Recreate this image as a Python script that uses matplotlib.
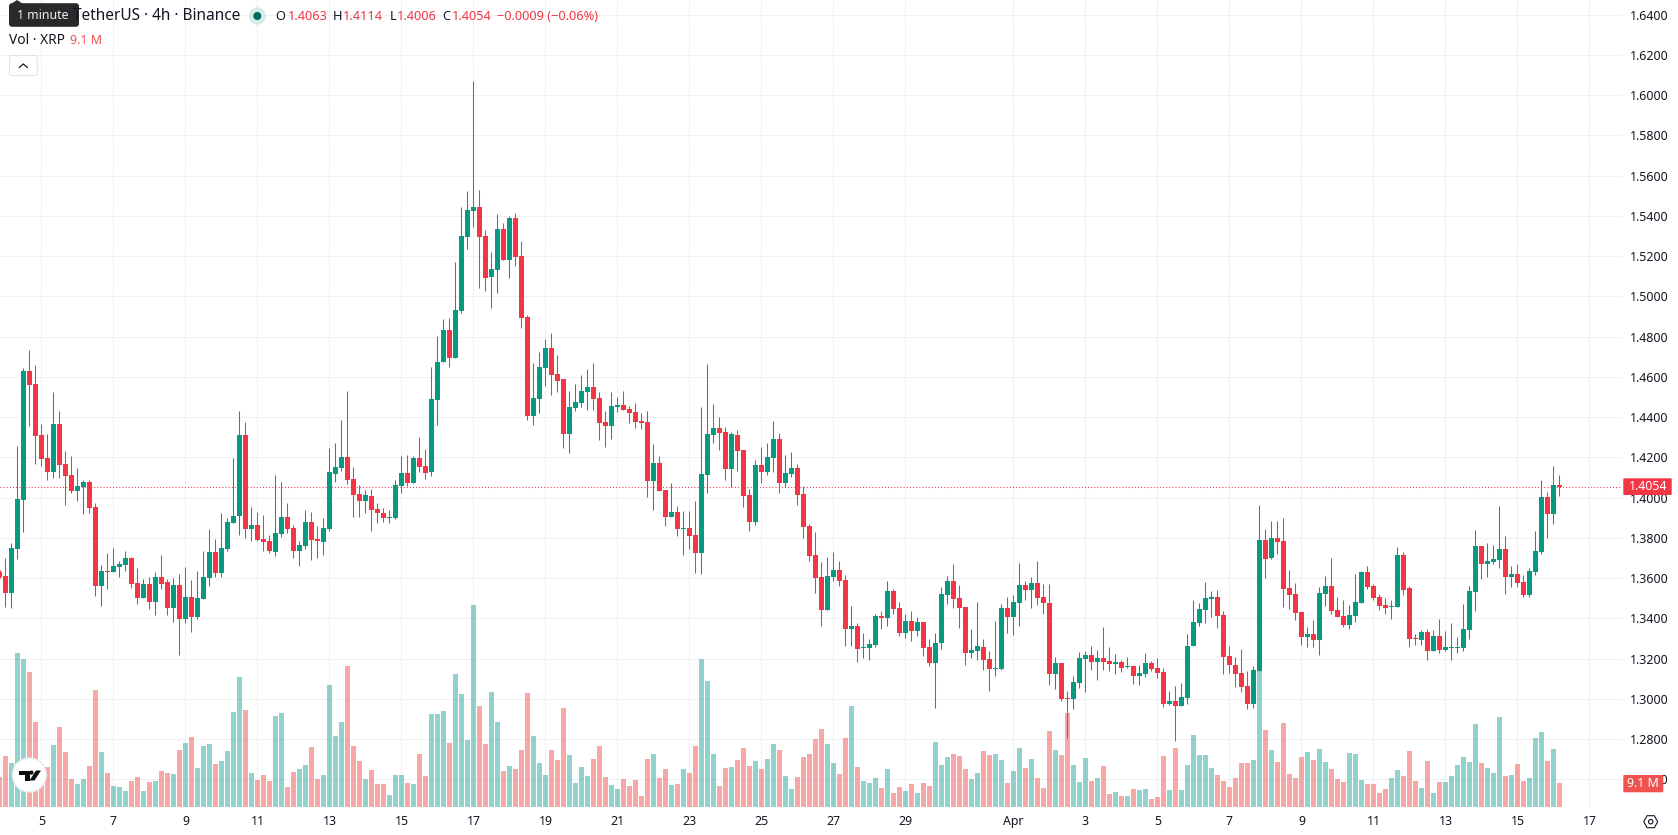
import numpy as np
import matplotlib
matplotlib.use('Agg')
import matplotlib.pyplot as plt
from matplotlib.patches import Circle, FancyBboxPatch, Polygon

plt.rcParams['font.family'] = ['Noto Sans', 'DejaVu Sans']

# ── XRP/USDT 4h candles, oldest first ──────────────────────
opens = [
    1.3629, 1.3609, 1.3525, 1.3743, 1.3987, 1.4628, 1.4564, 1.4310, 1.4196, 1.4126,
    1.4365, 1.4166, 1.4111, 1.4032, 1.4052, 1.4076, 1.3952, 1.3559, 1.3634, 1.3629,
    1.3654, 1.3664, 1.3699, 1.3574, 1.3500, 1.3569, 1.3480, 1.3604, 1.3579, 1.3450,
    1.3564, 1.3395, 1.3505, 1.3405, 1.3495, 1.3599, 1.3728, 1.3624, 1.3743, 1.3873,
    1.3907, 1.4310, 1.3843, 1.3863, 1.3793, 1.3783, 1.3728, 1.3818, 1.3902, 1.3848,
    1.3733, 1.3760, 1.3879, 1.3795, 1.3780, 1.3845, 1.4118, 1.4148, 1.4203, 1.4093,
    1.4019, 1.3984, 1.4009, 1.3944, 1.3924, 1.3899, 1.3899, 1.4058, 1.4123, 1.4073,
    1.4198, 1.4158, 1.4128, 1.4486, 1.4675, 1.4834, 1.4695, 1.4928, 1.5296, 1.5425,
    1.5445, 1.5301, 1.5097, 1.5132, 1.5336, 1.5182, 1.5391, 1.5202, 1.4898, 1.4405,
    1.4490, 1.4644, 1.4743, 1.4614, 1.4589, 1.4316, 1.4445, 1.4470, 1.4525, 1.4550,
    1.4495, 1.4376, 1.4356, 1.4450, 1.4460, 1.4440, 1.4425, 1.4381, 1.4376, 1.4082,
    1.4172, 1.4038, 1.3903, 1.3928, 1.3844, 1.3849, 1.3814, 1.3724, 1.4112, 1.4311,
    1.4346, 1.4326, 1.4142, 1.4311, 1.4236, 1.4013, 1.3878, 1.4162, 1.4127, 1.4197,
    1.4291, 1.4072, 1.4117, 1.4147, 1.4018, 1.3859, 1.3714, 1.3605, 1.3441, 1.3605,
    1.3640, 1.3590, 1.3347, 1.3362, 1.3252, 1.3252, 1.3267, 1.3412, 1.3402, 1.3536,
    1.3451, 1.3327, 1.3387, 1.3337, 1.3382, 1.3257, 1.3178, 1.3277, 1.3516, 1.3586,
    1.3501, 1.3456, 1.3228, 1.3238, 1.3257, 1.3198, 1.3148, 1.3148, 1.3451, 1.3407,
    1.3476, 1.3566, 1.3541, 1.3576, 1.3506, 1.3476, 1.3123, 1.3178, 1.3004, 1.2999,
    1.3078, 1.3198, 1.3218, 1.3183, 1.3203, 1.3188, 1.3173, 1.3183, 1.3158, 1.3163,
    1.3113, 1.3123, 1.3178, 1.3153, 1.3133, 1.2974, 1.2989, 1.2964, 1.3004, 1.3262,
    1.3377, 1.3441, 1.3496, 1.3506, 1.3416, 1.3213, 1.3168, 1.3128, 1.3063, 1.2974,
    1.3138, 1.3789, 1.3700, 1.3799, 1.3784, 1.3551, 1.3521, 1.3431, 1.3307, 1.3322,
    1.3292, 1.3521, 1.3561, 1.3441, 1.3411, 1.3367, 1.3411, 1.3476, 1.3630, 1.3561,
    1.3506, 1.3466, 1.3456, 1.3456, 1.3715, 1.3551, 1.3302, 1.3292, 1.3332, 1.3237,
    1.3312, 1.3242, 1.3252, 1.3252, 1.3252, 1.3342, 1.3531, 1.3759, 1.3670, 1.3680,
    1.3690, 1.3744, 1.3605, 1.3620, 1.3580, 1.3516, 1.3630, 1.3730, 1.4003, 1.3918,
    1.4063,
]
highs = [
    1.3639, 1.3699, 1.3772, 1.4255, 1.4643, 1.4733, 1.4658, 1.4365, 1.4315, 1.4524,
    1.4429, 1.4231, 1.4206, 1.4146, 1.4086, 1.4086, 1.3972, 1.3664, 1.3723, 1.3748,
    1.3684, 1.3733, 1.3704, 1.3649, 1.3594, 1.3604, 1.3629, 1.3714, 1.3594, 1.3599,
    1.3619, 1.3654, 1.3589, 1.3634, 1.3733, 1.3843, 1.3793, 1.3922, 1.3897, 1.4196,
    1.4429, 1.4375, 1.3952, 1.3927, 1.3912, 1.3813, 1.4111, 1.4076, 1.3972, 1.3863,
    1.3783, 1.3939, 1.3929, 1.3860, 1.3899, 1.4247, 1.4272, 1.4386, 1.4531, 1.4153,
    1.4063, 1.4038, 1.4043, 1.3974, 1.3949, 1.3939, 1.4088, 1.4207, 1.4212, 1.4207,
    1.4302, 1.4242, 1.4650, 1.4804, 1.4889, 1.4893, 1.5172, 1.5445, 1.5525, 1.6072,
    1.5530, 1.5331, 1.5222, 1.5410, 1.5366, 1.5401, 1.5415, 1.5276, 1.4908, 1.4669,
    1.4724, 1.4788, 1.4818, 1.4709, 1.4589, 1.4530, 1.4564, 1.4609, 1.4639, 1.4669,
    1.4525, 1.4430, 1.4525, 1.4500, 1.4530, 1.4455, 1.4470, 1.4420, 1.4430, 1.4266,
    1.4207, 1.4038, 1.4072, 1.3958, 1.3933, 1.3933, 1.3983, 1.4450, 1.4664, 1.4465,
    1.4400, 1.4351, 1.4326, 1.4336, 1.4236, 1.4042, 1.4187, 1.4251, 1.4271, 1.4381,
    1.4321, 1.4211, 1.4226, 1.4167, 1.4057, 1.3868, 1.3829, 1.3680, 1.3705, 1.3730,
    1.3685, 1.3615, 1.3461, 1.3377, 1.3327, 1.3297, 1.3421, 1.3436, 1.3586, 1.3546,
    1.3481, 1.3421, 1.3436, 1.3407, 1.3382, 1.3297, 1.3327, 1.3556, 1.3610, 1.3670,
    1.3566, 1.3456, 1.3347, 1.3481, 1.3297, 1.3238, 1.3387, 1.3471, 1.3506, 1.3516,
    1.3675, 1.3586, 1.3605, 1.3685, 1.3571, 1.3571, 1.3208, 1.3178, 1.3039, 1.3113,
    1.3233, 1.3238, 1.3262, 1.3243, 1.3357, 1.3257, 1.3223, 1.3193, 1.3208, 1.3168,
    1.3168, 1.3227, 1.3188, 1.3203, 1.3153, 1.3039, 1.3063, 1.3078, 1.3322, 1.3491,
    1.3476, 1.3580, 1.3536, 1.3541, 1.3436, 1.3262, 1.3208, 1.3247, 1.3138, 1.3163,
    1.3963, 1.3844, 1.3884, 1.3884, 1.3899, 1.3640, 1.3575, 1.3431, 1.3357, 1.3392,
    1.3556, 1.3610, 1.3700, 1.3506, 1.3491, 1.3466, 1.3620, 1.3635, 1.3660, 1.3570,
    1.3521, 1.3501, 1.3491, 1.3754, 1.3730, 1.3561, 1.3322, 1.3342, 1.3347, 1.3342,
    1.3396, 1.3337, 1.3377, 1.3307, 1.3471, 1.3561, 1.3839, 1.3759, 1.3774, 1.3764,
    1.3958, 1.3809, 1.3660, 1.3670, 1.3615, 1.3650, 1.3834, 1.4087, 1.4028, 1.4157,
    1.4114,
]
lows = [
    1.3598, 1.3455, 1.3450, 1.3694, 1.3828, 1.4355, 1.4166, 1.4156, 1.4086, 1.4096,
    1.4096, 1.3962, 1.4022, 1.3982, 1.3917, 1.3922, 1.3510, 1.3460, 1.3545, 1.3629,
    1.3604, 1.3634, 1.3549, 1.3470, 1.3500, 1.3445, 1.3415, 1.3545, 1.3415, 1.3380,
    1.3218, 1.3375, 1.3331, 1.3395, 1.3495, 1.3559, 1.3604, 1.3604, 1.3733, 1.3873,
    1.3813, 1.3798, 1.3783, 1.3783, 1.3733, 1.3723, 1.3709, 1.3803, 1.3823, 1.3699,
    1.3659, 1.3745, 1.3690, 1.3700, 1.3715, 1.3835, 1.4078, 1.4133, 1.4068, 1.3904,
    1.3904, 1.3924, 1.3835, 1.3874, 1.3879, 1.3874, 1.3894, 1.4024, 1.4058, 1.4073,
    1.4128, 1.4093, 1.4108, 1.4362, 1.4675, 1.4650, 1.4695, 1.4918, 1.5236, 1.5346,
    1.5043, 1.5028, 1.4943, 1.5018, 1.5182, 1.5092, 1.5152, 1.4844, 1.4386, 1.4361,
    1.4420, 1.4554, 1.4510, 1.4525, 1.4246, 1.4221, 1.4430, 1.4450, 1.4435, 1.4435,
    1.4286, 1.4251, 1.4291, 1.4425, 1.4435, 1.4371, 1.4346, 1.4341, 1.4003, 1.3938,
    1.4033, 1.3859, 1.3903, 1.3809, 1.3714, 1.3744, 1.3625, 1.3620, 1.4023, 1.4271,
    1.4236, 1.4087, 1.4052, 1.4132, 1.3953, 1.3834, 1.3864, 1.4072, 1.4112, 1.4127,
    1.4023, 1.4052, 1.4102, 1.3963, 1.3799, 1.3685, 1.3525, 1.3362, 1.3441, 1.3586,
    1.3561, 1.3262, 1.3262, 1.3183, 1.3203, 1.3193, 1.3257, 1.3347, 1.3362, 1.3421,
    1.3312, 1.3302, 1.3287, 1.3312, 1.3213, 1.3163, 1.2954, 1.3247, 1.3471, 1.3451,
    1.3352, 1.3168, 1.3203, 1.3193, 1.3143, 1.3039, 1.3113, 1.3143, 1.3327, 1.3317,
    1.3362, 1.3491, 1.3451, 1.3466, 1.3421, 1.3069, 1.3049, 1.2989, 1.2805, 1.2949,
    1.3054, 1.3034, 1.3143, 1.3093, 1.3143, 1.3138, 1.3123, 1.3133, 1.3153, 1.3073,
    1.3069, 1.3108, 1.3138, 1.3103, 1.2959, 1.2969, 1.2790, 1.2964, 1.2974, 1.3262,
    1.3362, 1.3377, 1.3406, 1.3352, 1.3123, 1.3128, 1.3058, 1.3034, 1.2949, 1.2954,
    1.3138, 1.3600, 1.3695, 1.3720, 1.3456, 1.3446, 1.3392, 1.3267, 1.3257, 1.3257,
    1.3218, 1.3461, 1.3421, 1.3406, 1.3357, 1.3347, 1.3382, 1.3476, 1.3546, 1.3491,
    1.3441, 1.3421, 1.3396, 1.3456, 1.3516, 1.3257, 1.3267, 1.3267, 1.3193, 1.3237,
    1.3227, 1.3237, 1.3193, 1.3227, 1.3237, 1.3297, 1.3436, 1.3595, 1.3605, 1.3670,
    1.3648, 1.3521, 1.3556, 1.3556, 1.3506, 1.3506, 1.3615, 1.3720, 1.3799, 1.3869,
    1.4006,
]
closes = [
    1.3604, 1.3525, 1.3748, 1.3992, 1.4628, 1.4559, 1.4305, 1.4191, 1.4126, 1.4365,
    1.4161, 1.4106, 1.4032, 1.4057, 1.4076, 1.3947, 1.3559, 1.3634, 1.3629, 1.3659,
    1.3669, 1.3699, 1.3569, 1.3500, 1.3569, 1.3480, 1.3604, 1.3569, 1.3450, 1.3564,
    1.3395, 1.3505, 1.3405, 1.3500, 1.3604, 1.3728, 1.3624, 1.3748, 1.3878, 1.3907,
    1.4310, 1.3843, 1.3863, 1.3788, 1.3778, 1.3733, 1.3823, 1.3902, 1.3843, 1.3733,
    1.3763, 1.3879, 1.3790, 1.3785, 1.3850, 1.4128, 1.4153, 1.4203, 1.4088, 1.4014,
    1.3984, 1.4014, 1.3939, 1.3924, 1.3899, 1.3904, 1.4063, 1.4123, 1.4073, 1.4198,
    1.4153, 1.4123, 1.4491, 1.4675, 1.4834, 1.4695, 1.4933, 1.5301, 1.5430, 1.5445,
    1.5296, 1.5092, 1.5137, 1.5336, 1.5182, 1.5391, 1.5197, 1.4893, 1.4406, 1.4495,
    1.4649, 1.4743, 1.4609, 1.4579, 1.4316, 1.4450, 1.4475, 1.4530, 1.4550, 1.4490,
    1.4371, 1.4356, 1.4455, 1.4460, 1.4435, 1.4420, 1.4376, 1.4371, 1.4082, 1.4172,
    1.4033, 1.3903, 1.3928, 1.3844, 1.3849, 1.3809, 1.3724, 1.4117, 1.4316, 1.4346,
    1.4321, 1.4142, 1.4316, 1.4231, 1.4008, 1.3878, 1.4162, 1.4127, 1.4202, 1.4291,
    1.4072, 1.4122, 1.4147, 1.4013, 1.3854, 1.3709, 1.3600, 1.3441, 1.3610, 1.3640,
    1.3586, 1.3347, 1.3362, 1.3247, 1.3257, 1.3272, 1.3412, 1.3402, 1.3536, 1.3446,
    1.3327, 1.3387, 1.3337, 1.3382, 1.3252, 1.3178, 1.3277, 1.3521, 1.3586, 1.3496,
    1.3451, 1.3228, 1.3243, 1.3262, 1.3193, 1.3148, 1.3153, 1.3451, 1.3407, 1.3481,
    1.3566, 1.3541, 1.3576, 1.3501, 1.3476, 1.3123, 1.3178, 1.2999, 1.2999, 1.3083,
    1.3203, 1.3218, 1.3183, 1.3203, 1.3183, 1.3173, 1.3183, 1.3153, 1.3163, 1.3113,
    1.3128, 1.3178, 1.3148, 1.3128, 1.2974, 1.2989, 1.2964, 1.3009, 1.3262, 1.3382,
    1.3446, 1.3501, 1.3506, 1.3411, 1.3208, 1.3168, 1.3123, 1.3058, 1.2974, 1.3143,
    1.3789, 1.3695, 1.3799, 1.3779, 1.3546, 1.3516, 1.3426, 1.3307, 1.3322, 1.3292,
    1.3526, 1.3561, 1.3436, 1.3406, 1.3367, 1.3416, 1.3481, 1.3630, 1.3556, 1.3501,
    1.3461, 1.3451, 1.3461, 1.3715, 1.3541, 1.3297, 1.3297, 1.3332, 1.3237, 1.3312,
    1.3242, 1.3257, 1.3257, 1.3257, 1.3347, 1.3536, 1.3759, 1.3670, 1.3685, 1.3695,
    1.3744, 1.3605, 1.3620, 1.3575, 1.3516, 1.3635, 1.3735, 1.4003, 1.3918, 1.4063,
    1.4054,
]
# volume in millions of XRP
volumes = [
    11.2, 19.2, 16.6, 58.3, 56.0, 51.1, 32.1, 16.4, 15.0, 23.4,
    30.2, 20.7, 10.5, 8.6, 10.5, 15.4, 44.2, 20.7, 12.8, 7.8,
    7.5, 5.9, 9.7, 11.2, 5.9, 9.4, 9.7, 13.5, 12.8, 12.4,
    21.5, 24.1, 26.4, 14.7, 23.0, 23.8, 16.2, 17.3, 21.1, 35.9,
    49.2, 36.7, 12.8, 10.1, 12.0, 9.7, 34.4, 35.5, 7.5, 13.1,
    14.3, 15.8, 22.6, 10.5, 12.0, 46.1, 26.8, 32.1, 53.3, 23.0,
    17.3, 10.5, 13.9, 8.6, 8.6, 4.4, 12.0, 12.0, 9.0, 8.6,
    20.0, 11.8, 35.3, 35.3, 36.4, 24.3, 50.4, 42.8, 25.4, 76.6,
    38.3, 23.9, 43.6, 32.2, 13.7, 15.5, 14.4, 21.6, 43.2, 26.9,
    16.7, 12.1, 21.6, 17.8, 37.5, 19.7, 9.1, 15.2, 11.8, 18.2,
    23.1, 11.4, 8.3, 6.8, 10.6, 8.0, 10.2, 4.2, 18.2, 20.1,
    11.0, 14.4, 8.3, 8.7, 14.4, 12.9, 23.1, 56.1, 47.8, 20.1,
    8.0, 14.8, 15.2, 17.8, 22.4, 15.5, 17.4, 14.4, 18.2, 23.9,
    21.6, 11.8, 6.8, 11.4, 19.0, 20.1, 25.8, 29.6, 23.9, 16.7,
    12.5, 26.2, 38.3, 15.2, 9.9, 9.1, 11.0, 7.2, 14.4, 5.3,
    7.6, 6.1, 8.7, 5.3, 9.1, 8.0, 24.6, 15.9, 19.0, 20.1,
    19.3, 14.4, 10.6, 12.9, 21.2, 19.7, 20.1, 17.8, 9.1, 13.7,
    22.4, 14.8, 18.2, 11.0, 7.2, 28.8, 21.6, 19.7, 35.6, 15.9,
    9.5, 18.6, 9.9, 11.0, 15.5, 4.9, 5.7, 4.2, 4.2, 6.8,
    6.4, 6.8, 3.0, 3.8, 19.3, 6.4, 22.4, 6.4, 15.9, 27.3,
    19.7, 19.7, 14.8, 12.1, 9.9, 7.6, 11.0, 16.7, 16.7, 17.8,
    51.7, 29.2, 21.6, 17.1, 31.9, 12.5, 11.0, 19.0, 20.9, 17.8,
    22.0, 17.1, 14.4, 10.6, 9.5, 20.5, 20.1, 10.2, 8.7, 8.7,
    5.3, 6.8, 11.0, 14.0, 11.8, 21.2, 9.9, 7.2, 17.4, 5.3,
    9.5, 9.5, 11.8, 15.9, 19.0, 17.1, 31.5, 16.7, 14.8, 12.9,
    34.1, 11.8, 12.1, 16.3, 9.9, 11.0, 26.2, 28.4, 17.4, 22.0,
    9.1,
]

# bar numbers of the date labels (six 4h bars per day)
day_ticks = [6, 18, 30, 42, 54, 66, 78, 90, 102, 114, 126, 138, 150,
             168, 180, 192, 204, 216, 228, 240, 252, 264]
day_labels = ['5', '7', '9', '11', '13', '15', '17', '19', '21', '23', '25', '27', '29',
              'Apr', '3', '5', '7', '9', '11', '13', '15', '17']
price_ticks = [1.26, 1.28, 1.30, 1.32, 1.34, 1.36, 1.38, 1.40, 1.42, 1.44,
               1.46, 1.48, 1.50, 1.52, 1.54, 1.56, 1.58, 1.60, 1.62, 1.64]
last_price = 1.4054

UP = '#089981'
DOWN = '#F23645'
VOL_UP = '#26a69a'
VOL_DOWN = '#ef5350'
GRID = '#f0f1f4'
TEXT = '#131722'

W, H = 1678, 835
PANE_W, PANE_H = 1622, 808
PX_PER_BAR = 6.0
PX_PER_PRICE = 2012.5
PX_PER_VOL = 1 / 0.379

bars = np.arange(-1, len(opens) - 1)
o = np.array(opens)
h = np.array(highs)
l = np.array(lows)
c = np.array(closes)
is_up = c >= o
colors = np.where(is_up, UP, DOWN)
vol_colors = np.where(is_up, VOL_UP, VOL_DOWN)

fig = plt.figure(figsize=(W / 100, H / 100), dpi=100, facecolor='white')
rect = [0, 1 - PANE_H / H, PANE_W / W, PANE_H / H]
xlim = (-5.5 / PX_PER_BAR, (PANE_W - 5.5) / PX_PER_BAR)
ylim = (1.42 - (PANE_H - 457.3) / PX_PER_PRICE, 1.42 + 457.3 / PX_PER_PRICE)

# --- grid and axis labels ---
ax = fig.add_axes(rect)
ax.set_xlim(xlim)
ax.set_ylim(ylim)
for s in ax.spines.values():
    s.set_visible(False)
ax.yaxis.tick_right()
ax.set_yticks(price_ticks, [f'{p:.4f}' for p in price_ticks])
ax.set_xticks(day_ticks, day_labels)
ax.tick_params(axis='y', length=0, pad=6.0, labelsize=8.9, labelcolor=TEXT)
ax.tick_params(axis='x', length=0, pad=5.0, labelsize=8.9, labelcolor=TEXT)
for t in ax.get_xticklabels():
    if t.get_text() == 'Apr':
        t.set_fontweight('bold')
ax.grid(True, color=GRID, linewidth=0.8)
ax.set_axisbelow(True)

# --- volume pane, same rectangle, anchored to the bottom ---
vol_ax = fig.add_axes(rect, sharex=ax)
vol_ax.patch.set_visible(False)
vol_ax.axis('off')
vol_ax.set_ylim(-1 / PX_PER_VOL, (PANE_H - 1) / PX_PER_VOL)
vol_ax.bar(bars, volumes, width=5 / PX_PER_BAR, color=vol_colors, alpha=0.5, linewidth=0)

# --- candles ---
cax = fig.add_axes(rect, sharex=ax)
cax.patch.set_visible(False)
cax.axis('off')
cax.set_ylim(ylim)
cax.axhline(last_price, color=DOWN, linewidth=0.75, linestyle=(0, (1, 2)), zorder=1)
cax.vlines(bars, l, h, colors=colors, linewidth=0.75, zorder=2)
body_low = np.minimum(o, c)
body_h = np.maximum(np.abs(c - o), 0.0006)
cax.bar(bars, body_h, bottom=body_low, width=5 / PX_PER_BAR, color=colors, linewidth=0, zorder=3)

# --- chart chrome in pixel coordinates ---
ui = fig.add_axes([0, 0, 1, 1], zorder=10)
ui.set_xlim(0, W)
ui.set_ylim(H, 0)
ui.axis('off')
ui.patch.set_visible(False)

ui.text(240.7, 16, 'TetherUS · 4h · Binance', ha='right', va='center', fontsize=11.1, color=TEXT)
ui.add_patch(Circle((257.3, 16), 8.7, fc='#d5ece8', ec='none'))
ui.add_patch(Circle((257.3, 16), 4, fc='#00695c', ec='none'))

for label, lx, val, vx in [('O', 275.6, '1.4063', 287.9), ('H', 332.9, '1.4114', 343.2),
                           ('L', 389.5, '1.4006', 396.6), ('C', 442.0, '1.4054', 451.6)]:
    ui.text(lx, 16, label, ha='left', va='center', fontsize=9.2, color=TEXT)
    ui.text(vx, 16, val, ha='left', va='center', fontsize=9.2, color=DOWN)
ui.text(497.4, 16, '−0.0009 (−0.06%)', ha='left', va='center', fontsize=9.2, color=DOWN)

ui.text(9, 41, 'Vol · XRP', ha='left', va='center', fontsize=9.9, color=TEXT)
ui.text(70, 41, '9.1 M', ha='left', va='center', fontsize=9.0, color=VOL_DOWN)

# collapse button
ui.add_patch(FancyBboxPatch((9.5, 55.5), 27.8, 20, boxstyle='round,pad=0,rounding_size=2.5',
                            fc='white', ec='#e0e3eb', lw=0.8))
ui.plot([19.3, 23.3, 27.3], [67.4, 64.0, 67.4], color=TEXT, lw=0.9)

# hover tooltip
ui.add_patch(Polygon([(11, 4), (17, 0), (23, 4)], fc='#2a2a2c', ec='none'))
ui.add_patch(FancyBboxPatch((9, 3.2), 70, 23.6, boxstyle='round,pad=0,rounding_size=3',
                            fc='#2a2a2c', ec='none'))
ui.text(42.8, 15.5, '1 minute', ha='center', va='center', fontsize=8.9, color='#f0f0f0')

# logo badge
ui.add_patch(Circle((29.3, 775), 17.6, fc='#eceef2', ec='none'))
ui.add_patch(Circle((29.3, 775), 16.2, fc='white', ec='none'))
ui.add_patch(Polygon([(19, 770.5), (29.5, 770.5), (29.5, 780.5), (24.5, 780.5), (24.5, 775), (19, 775)],
                     fc='#0d0d0d', ec='none'))
ui.add_patch(Circle((31.5, 772.6), 2.1, fc='#0d0d0d', ec='none'))
ui.add_patch(Polygon([(36, 770.5), (41, 770.5), (34.5, 780.5), (29.5, 780.5)], fc='#0d0d0d', ec='none'))

# last price and last volume tags on the price scale
ui.add_patch(FancyBboxPatch((1623.3, 478.3), 48.4, 16.7, boxstyle='round,pad=0,rounding_size=1',
                            fc=DOWN, ec='none'))
ui.text(1648.5, 486.5, '1.4054', ha='center', va='center', fontsize=8.9, color='white')
ui.add_patch(FancyBboxPatch((1623.3, 775), 40, 17.3, boxstyle='round,pad=0,rounding_size=1',
                            fc=VOL_DOWN, ec='none'))
ui.text(1643.3, 783.6, '9.1 M', ha='center', va='center', fontsize=8.9, color='white')

# settings icon
cx, cy = 1650.7, 821.7
hexagon = [(cx - 7, cy), (cx - 3.6, cy - 6), (cx + 3.6, cy - 6), (cx + 7, cy), (cx + 3.6, cy + 6), (cx - 3.6, cy + 6)]
ui.add_patch(Polygon(hexagon, fc='none', ec=TEXT, lw=0.8, joinstyle='round'))
ui.add_patch(Circle((cx, cy), 2.2, fc='none', ec=TEXT, lw=0.8))

fig.savefig('out.png', dpi=100, facecolor='white')
